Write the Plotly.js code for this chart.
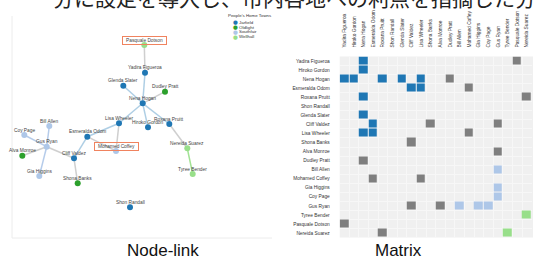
<!DOCTYPE html>
<html><head><meta charset="utf-8">
<script src="https://cdn.plot.ly/plotly-3.0.1.min.js"></script>
<style>html,body{margin:0;padding:0;background:#fff}#c{width:533px;height:259px}</style>
</head><body><div id="c"></div>
<script>
// ---------------- data ----------------
const people = ["Yadira Figueroa","Hiroko Gordon","Nena Hogan","Esmeralda Odom","Roxana Pruitt","Shon Randall","Glenda Slater","Cliff Valdez","Lisa Wheeler","Shona Banks","Alva Monroe","Dudley Pratt","Bill Allen","Mohamed Coffey","Gia Higgins","Coy Page","Gus Ryan","Tyree Bender","Pasquale Dotson","Nereida Suarez"];
const homeTowns = ["Jarfield","Jarfield","Jarfield","Jarfield","Jarfield","Jarfield","Jarfield","Jarfield","Jarfield","Oldlight","Oldlight","Oldlight","Southfair","Southfair","Southfair","Southfair","Southfair","Wellhall","Wellhall","Wellhall"];
const townNames = ["Jarfield","Oldlight","Southfair","Wellhall"];
const townColors = ["#1f77b4","#2ca02c","#aec7e8","#98df8a"];
const crossTownColor = "#7f7f7f";
// node-link layout positions (layout units)
const nodeX = [145,148,142.7,87.3,169.3,130,123.3,74,119,77.7,22.3,165,49.3,116,39.3,24.3,46.7,192.7,144.3,187.3];
const nodeY = [72.7,127.3,103.3,136.7,124,207.3,85.7,158.3,123.3,183.3,155.7,91.7,126,151,176,135,146.7,174,45,148.3];
const links = [
  ["Yadira Figueroa","Nena Hogan"],["Hiroko Gordon","Nena Hogan"],["Nena Hogan","Roxana Pruitt"],
  ["Nena Hogan","Glenda Slater"],["Nena Hogan","Lisa Wheeler"],["Esmeralda Odom","Cliff Valdez"],
  ["Esmeralda Odom","Lisa Wheeler"],["Yadira Figueroa","Pasquale Dotson"],["Nena Hogan","Dudley Pratt"],
  ["Esmeralda Odom","Mohamed Coffey"],["Roxana Pruitt","Nereida Suarez"],["Cliff Valdez","Shona Banks"],
  ["Cliff Valdez","Gus Ryan"],["Lisa Wheeler","Mohamed Coffey"],["Alva Monroe","Gus Ryan"],
  ["Bill Allen","Gus Ryan"],["Gia Higgins","Gus Ryan"],["Coy Page","Gus Ryan"],["Tyree Bender","Nereida Suarez"]
];
const highlighted = ["Pasquale Dotson","Mohamed Coffey"];
const legendTitle = "People's Home Towns";
const panelTitles = ["Node-link","Matrix"];
const headerText = "ー分に設定を導入し、市内各地への利点を指摘した分析を実施";

// ---------------- build ----------------
const idx = n => people.indexOf(n);
const colorOf = i => townColors[townNames.indexOf(homeTowns[i])];
const FONT = "Liberation Sans, Arial, sans-serif";
const traces = [];

// links grouped by colour
const groups = {};
links.forEach(([a,b]) => {
  const i = idx(a), j = idx(b);
  const key = homeTowns[i] === homeTowns[j] ? homeTowns[i] : "cross";
  (groups[key] = groups[key] || {x:[],y:[]});
  groups[key].x.push(nodeX[i], nodeX[j], null);
  groups[key].y.push(nodeY[i], nodeY[j], null);
});
const linkColor = {Jarfield:"rgba(31,119,180,0.36)",Oldlight:"rgba(44,160,44,0.4)",Southfair:"rgba(174,199,232,0.9)",Wellhall:"rgba(152,223,138,0.9)",cross:"rgba(160,160,160,0.5)"};
Object.keys(groups).forEach(k => traces.push({
  type:"scatter", mode:"lines", x:groups[k].x, y:groups[k].y, xaxis:"x", yaxis:"y",
  line:{color:linkColor[k], width:1.5}, hoverinfo:"skip", showlegend:false
}));
// nodes
traces.push({
  type:"scatter", mode:"markers", x:nodeX, y:nodeY, xaxis:"x", yaxis:"y",
  marker:{size:6, color:people.map((p,i)=>colorOf(i))}, hoverinfo:"text", text:people, showlegend:false
});

// matrix
const codeOf = (i,j) => homeTowns[i] === homeTowns[j] ? townNames.indexOf(homeTowns[i]) + 1 : 5;
const z = people.map(() => people.map(() => null));
links.forEach(([a,b]) => { const i = idx(a), j = idx(b); z[i][j] = codeOf(i,j); z[j][i] = codeOf(j,i); });
const idxs = people.map((p,i)=>i);
const allColors = townColors.concat([crossTownColor]);
const cs = [];
allColors.forEach((c,k) => { cs.push([k/allColors.length, c]); cs.push([(k+1)/allColors.length, c]); });
traces.push({
  type:"heatmap", x:idxs, y:idxs, z:z, xaxis:"x2", yaxis:"y2",
  colorscale:cs, zmin:0.5, zmax:allColors.length+0.5, showscale:false, xgap:1, ygap:1, hoverinfo:"skip"
});
// row dots and column dots
traces.push({
  type:"scatter", mode:"markers", x:idxs.map(()=>-1), y:idxs, xaxis:"x2", yaxis:"y2", cliponaxis:false,
  marker:{size:6, color:people.map((p,i)=>colorOf(i))}, hoverinfo:"skip", showlegend:false
});
traces.push({
  type:"scatter", mode:"markers", x:idxs, y:idxs.map(()=>-1), xaxis:"x2", yaxis:"y2", cliponaxis:false,
  marker:{size:6, color:people.map((p,i)=>colorOf(i))}, hoverinfo:"skip", showlegend:false
});

// annotations
const ann = [];
people.forEach((p,i) => {
  const hl = highlighted.includes(p);
  const a = {x:nodeX[i], y:nodeY[i], xref:"x", yref:"y", text:p, showarrow:false, yshift:5,
    yanchor:"middle", font:{family:FONT, size:4.8, color:"#444"}};
  if (hl) Object.assign(a, {bordercolor:"#f0835f", borderwidth:1, borderpad:0.5, width:42, height:5.5});
  ann.push(a);
  if (hl) ann.push({x:-1, y:i, xref:"x2", yref:"y2", text:" ", showarrow:false, xanchor:"right", xshift:-2.5,
    bordercolor:"#f0835f", borderwidth:1, borderpad:0, width:42, height:5});
});
// legend
ann.push({x:226/533, y:1-15.5/259, xref:"paper", yref:"paper", xanchor:"left", yanchor:"middle", showarrow:false,
  text:legendTitle, font:{family:FONT, size:4.4, color:"#333"}});
townNames.forEach((t,k) => {
  ann.push({x:231/533, y:1-(22+5*k)/259, xref:"paper", yref:"paper", xanchor:"left", yanchor:"middle", showarrow:false,
    text:"●", font:{family:"DejaVu Sans", size:5.5, color:townColors[k]}});
  ann.push({x:236.5/533, y:1-(22+5*k)/259, xref:"paper", yref:"paper", xanchor:"left", yanchor:"middle", showarrow:false,
    text:t, font:{family:FONT, size:4.4, color:"#333"}});
});
// panel titles + header
ann.push({x:125/533, y:1-250/259, xref:"paper", yref:"paper", showarrow:false, yanchor:"middle",
  text:panelTitles[0], font:{family:FONT, size:17, color:"#111"}});
ann.push({x:424/533, y:1-250/259, xref:"paper", yref:"paper", showarrow:false, yanchor:"middle",
  text:panelTitles[1], font:{family:FONT, size:17, color:"#111"}});
ann.push({x:30/533, y:1, xref:"paper", yref:"paper", xanchor:"left", yanchor:"middle", yshift:3, showarrow:false,
  text:headerText, font:{family:"Noto Sans CJK JP", size:21, color:"#222"}});

const hidden = {visible:false, fixedrange:true};
const layout = {
  width:533, height:259, margin:{l:0,r:0,t:0,b:0}, paper_bgcolor:"#fff", plot_bgcolor:"rgba(0,0,0,0)",
  showlegend:false,
  xaxis:Object.assign({domain:[0,0.5], range:[0,266.5]}, hidden),
  yaxis:Object.assign({domain:[0,1], range:[259,0]}, hidden),
  xaxis2:{domain:[339.7/533, 531.7/533], range:[-0.5,19.5], side:"top", anchor:"y2",
    tickmode:"array", tickvals:idxs, ticktext:people, tickangle:-90,
    tickfont:{family:FONT, size:4.8, color:"#333"}, ticks:"outside", ticklen:7, tickcolor:"rgba(0,0,0,0)",
    showgrid:false, zeroline:false, showline:false, fixedrange:true,
    minor:{tick0:-0.5, dtick:1, showgrid:true, gridcolor:"#f7f7f7", gridwidth:1}},
  yaxis2:{domain:[1-237.5/259, 1-56.5/259], range:[19.5,-0.5], anchor:"x2",
    tickmode:"array", tickvals:idxs, ticktext:people,
    tickfont:{family:FONT, size:4.8, color:"#333"}, ticks:"outside", ticklen:8, tickcolor:"rgba(0,0,0,0)",
    showgrid:false, zeroline:false, showline:false, fixedrange:true,
    minor:{tick0:-0.5, dtick:1, showgrid:true, gridcolor:"#f7f7f7", gridwidth:1}},
  shapes:[
    {type:"rect", xref:"x2 domain", yref:"y2 domain", x0:0, x1:1.01, y0:0, y1:1, fillcolor:"#f0f0f0", line:{width:0}, layer:"below"},
    {type:"line", xref:"paper", yref:"paper", x0:12/533, x1:12/533, y0:1-238/259, y1:1-16/259, line:{color:"#ececec", width:1}},
    {type:"line", xref:"paper", yref:"paper", x0:12/533, x1:272/533, y0:1-238/259, y1:1-238/259, line:{color:"#ececec", width:1}}
  ],
  annotations:ann
};
Plotly.newPlot("c", traces, layout, {displayModeBar:false, staticPlot:true});
</script>
</body></html>
